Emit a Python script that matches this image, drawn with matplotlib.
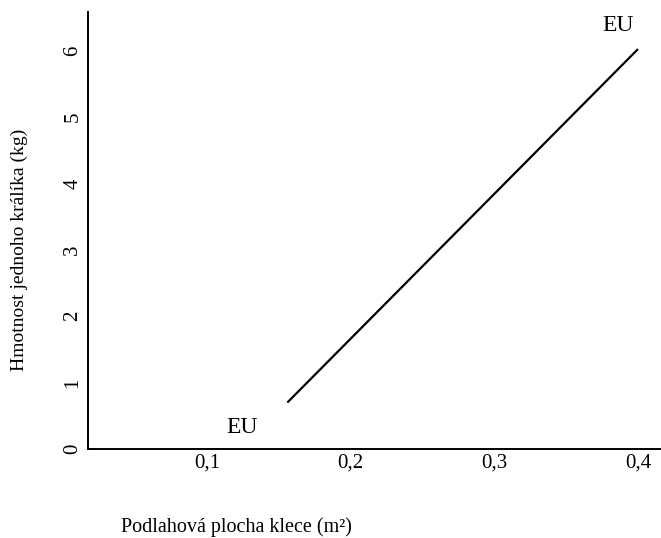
import matplotlib
matplotlib.use("Agg")
import matplotlib.pyplot as plt

plt.rcParams['font.family'] = ['Liberation Serif', 'DejaVu Serif']

area = [0.156, 0.4]
weight = [0.7, 6.02]
xticks = [0.1, 0.2, 0.3, 0.4]
xtick_labels = ['0,1', '0,2', '0,3', '0,4']
yticks = [0, 1, 2, 3, 4, 5, 6]
ytick_labels = ['0', '1', '2', '3', '4', '5', '6']
annotations = [("EU", 0.1244, 0.33), ("EU", 0.386, 6.38)]

fig = plt.figure(figsize=(6.61, 5.38), dpi=100)
ax = fig.add_axes([0.133, 0.1654, 0.867, 0.8126])
ax.plot(area, weight, color='black', linewidth=1.6, solid_capstyle='butt')
ax.set_xlim(0.0172, 0.416)
ax.set_ylim(0, 6.58)
ax.set_xticks(xticks)
ax.set_xticklabels(xtick_labels, fontsize=15)
ax.set_yticks(yticks)
ax.set_yticklabels(ytick_labels, fontsize=15, rotation=90, va='center')
ax.tick_params(length=0)
ax.tick_params(axis='x', pad=3)
ax.tick_params(axis='y', pad=4)
for s in ['top', 'right']:
    ax.spines[s].set_visible(False)
for s in ['left', 'bottom']:
    ax.spines[s].set_linewidth(1.4)
for txt, x, y in annotations:
    ax.text(x, y, txt, fontsize=17, ha='center', va='center')

fig.text(0.030, 0.536, 'Hmotnost jednoho králíka (kg)', rotation=90,
         ha='center', va='center', fontsize=14)
fig.text(0.358, 0.021, 'Podlahová plocha klece (m²)', ha='center', va='center',
         fontsize=14.5)
fig.savefig('out.png', dpi=100)
